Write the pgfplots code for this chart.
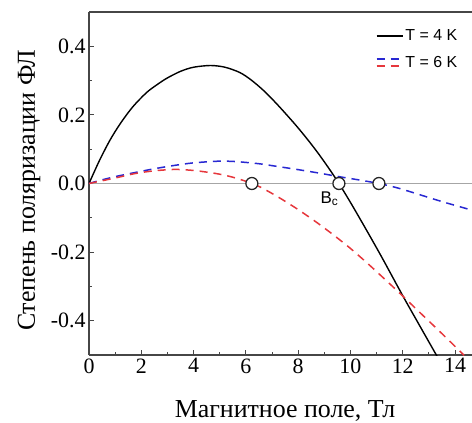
\documentclass[border=0pt]{standalone}
\usepackage{fontspec}
\setmainfont{Liberation Serif}
\newfontfamily\serifnum{Liberation Serif}
\newfontfamily\sans{Liberation Sans}
\usepackage{pgfplots}
\pgfplotsset{compat=1.18}
\definecolor{myblue}{RGB}{40,40,210}
\definecolor{myred}{RGB}{230,55,60}
\definecolor{axgray}{RGB}{70,70,70}
\begin{document}
\begin{tikzpicture}
\path[use as bounding box] (-89bp,-68bp) rectangle (383bp,355bp);
\begin{axis}[
  name=ax,
  at={(0,0)}, anchor=south west,
  scale only axis, width=383bp, height=343bp,
  xmin=0, xmax=14.65, ymin=-0.5, ymax=0.5,
  axis x line*=bottom, axis y line*=left,
  axis line style={-, line width=1.3bp, draw=axgray},
  xtick={0,2,4,6,8,10,12,14},
  xticklabels={0,2,4,6,8,10,12,14},
  ytick={-0.4,-0.2,0,0.2,0.4},
  yticklabels={-0.4,-0.2,0.0,0.2,0.4},
  minor xtick={1,3,5,7,9,11,13}, minor ytick={-0.3,-0.1,0.1,0.3},
  tick align=inside,
  major tick length=5bp, minor tick length=3bp,
  every tick/.style={line width=1bp, axgray},
  every tick label/.append style={font=\serifnum\fontsize{22}{24}\selectfont},
  xlabel={Магнитное поле, Тл},
  ylabel={Степень поляризации ФЛ},
  label style={font=\serifnum\fontsize{26}{28}\selectfont},
  xlabel style={at={(axis description cs:0.512,-0.181)}, anchor=base},
  ylabel style={at={(axis description cs:-0.141,0.48)}, anchor=base},
  legend style={at={(axis description cs:0.975,0.96)}, anchor=north east,
    draw=none, fill=none, font=\sans\fontsize{16}{17}\selectfont,
    row sep=10bp, /tikz/every even column/.append style={column sep=5bp}},
  legend cell align=left,
  legend image code/.code={\draw[#1] (0bp,0bp) -- (26bp,0bp);},
]
\addplot[forget plot, color=black!35, line width=1.2bp] coordinates {(0,0) (14.65,0)};
\addplot[black, line width=1.4bp, smooth] coordinates {
(0,0) (0.4,0.067) (0.8,0.126) (1.2,0.175) (1.68,0.224) (2.2,0.265) (2.6,0.288)
(2.98,0.307) (3.5,0.327) (4.0,0.339) (4.65,0.344) (5.2,0.339) (5.77,0.3235)
(6.2,0.302) (6.65,0.273) (7.1,0.2387) (7.5,0.2055) (7.95,0.1665) (8.4,0.1246)
(8.8,0.0846) (9.2,0.0414) (9.56,0) (10.0,-0.055) (10.6,-0.134) (11.2,-0.215)
(12.0,-0.327) (12.6,-0.408) (13.3,-0.502) (13.4,-0.516)};
\addlegendentry{T = 4 K}
\addlegendimage{legend image code/.code={
  \draw[myblue, line width=1.5bp, dash pattern=on 8bp off 6bp] (0bp,3.5bp) -- (26bp,3.5bp);
  \draw[myred, line width=1.5bp, dash pattern=on 8bp off 6bp] (0bp,-3.5bp) -- (26bp,-3.5bp);}}
\addlegendentry{T = 6 K}
\addplot[forget plot, myblue, line width=1.5bp, dash pattern=on 8bp off 6bp, smooth] coordinates {
(0,0) (0.42,0.009) (1.0,0.020) (1.76,0.032) (2.5,0.043) (3.29,0.053) (3.98,0.060)
(4.93,0.065) (5.6,0.064) (6.46,0.058) (6.92,0.053) (7.95,0.041) (8.83,0.030)
(9.48,0.021) (10.2,0.012) (10.7,0.0055) (11.09,0) (11.5,-0.007) (11.9,-0.015)
(12.5,-0.029) (13.0,-0.041) (13.6,-0.055) (14.2,-0.068) (14.65,-0.078)};
\addplot[forget plot, myred, line width=1.5bp, dash pattern=on 8bp off 6bp, smooth] coordinates {
(0,0) (0.5,0.008) (1.0,0.016) (1.76,0.029) (2.5,0.037) (3.29,0.041) (4.0,0.038)
(4.7,0.031) (5.2,0.024) (5.7,0.014) (6.23,0) (6.54,-0.010) (7.0,-0.029) (7.42,-0.048)
(8.0,-0.076) (8.72,-0.114) (9.3,-0.147) (9.98,-0.188) (10.7,-0.236) (11.3,-0.278)
(12.0,-0.328) (12.6,-0.372) (13.15,-0.412) (13.6,-0.445) (14.07,-0.480) (14.35,-0.501)};
\addplot[forget plot, only marks, mark=*, mark size=6bp,
  mark options={fill=white, draw=black!85, line width=1.3bp}] coordinates {
(6.23,0) (9.56,0) (11.09,0)};
\node[font=\sans\fontsize{17}{18}\selectfont, anchor=center] at (axis cs:9.2,-0.045) {B\textsubscript{c}};
\end{axis}
\draw[line width=1.3bp, axgray] (ax.north west) -- (ax.north east);
\end{tikzpicture}
\end{document}
